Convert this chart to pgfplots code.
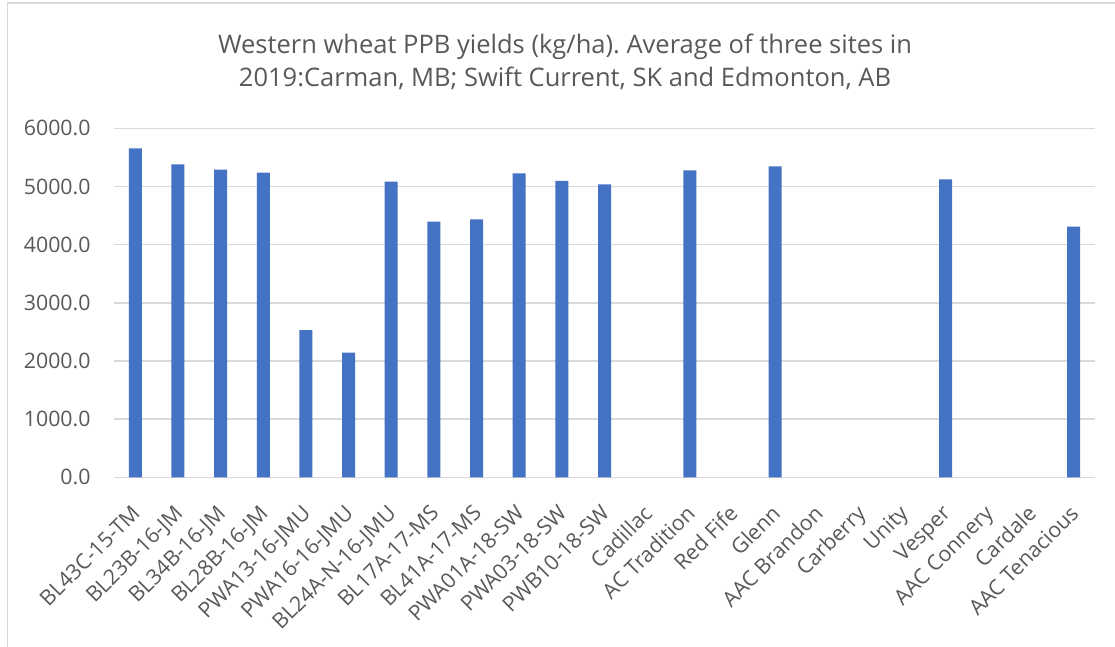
\documentclass[border=0pt]{standalone}
\usepackage{fontspec}
\setmainfont{Open Sans}
\usepackage{pgfplots}
\pgfplotsset{compat=1.18}
\definecolor{barblue}{HTML}{4472C4}
\definecolor{txtgray}{HTML}{595959}
\definecolor{gridgray}{HTML}{D9D9D9}
\frenchspacing
\begin{document}
\begin{tikzpicture}[x=1pt,y=1pt]
\useasboundingbox[fill=white] (0,0) rectangle (1115,647);
\draw[gridgray, line width=1.5pt] (7.5,0) -- (7.5,644) -- (1115,644);
\node[text=txtgray, font=\fontsize{25.5}{33}\selectfont, align=center] at (565,585.5) {Western wheat PPB yields (kg/ha). Average of three sites in\\2019:Carman, MB; Swift Current, SK and Edmonton, AB};
\begin{axis}[
  at={(114pt,169.7pt)}, anchor=south west,
  scale only axis, width=981pt, height=349pt,
  xmin=-0.5, xmax=22.5, ymin=0, ymax=6000,
  ybar, bar width=13pt,
  xtick={0,...,22},
  xticklabels={BL43C-15-TM,BL23B-16-JM,BL34B-16-JM,BL28B-16-JM,PWA13-16-JMU,PWA16-16-JMU,BL24A-N-16-JMU,BL17A-17-MS,BL41A-17-MS,PWA01A-18-SW,PWA03-18-SW,PWB10-18-SW,Cadillac,AC Tradition,Red Fife,Glenn,AAC Brandon,Carberry,Unity,Vesper,AAC Connery,Cardale,AAC Tenacious},
  ytick={0,1000,2000,3000,4000,5000,6000},
  ymajorgrids, major grid style={gridgray, line width=1.5pt},
  axis line style={draw=none},
  major tick style={draw=none},
  /pgf/number format/assume math mode=true,
  ticklabel style={font=\fontsize{21.3}{25}\selectfont, text=txtgray},
  yticklabel style={/pgf/number format/fixed, /pgf/number format/fixed zerofill, /pgf/number format/precision=1, /pgf/number format/1000 sep={}},
  yticklabel style={anchor=east, xshift=-20pt},
  xticklabel style={rotate=45, anchor=north east, inner sep=0pt, xshift=-19pt, yshift=-12pt},
]
\addplot[fill=barblue, draw=none] coordinates {
(0,5656) (1,5381) (2,5288) (3,5237) (4,2532) (5,2143) (6,5082) (7,4394) (8,4435) (9,5226) (10,5094) (11,5037) (13,5277) (15,5346) (19,5123) (22,4308)
};
\end{axis}
\end{tikzpicture}
\end{document}
